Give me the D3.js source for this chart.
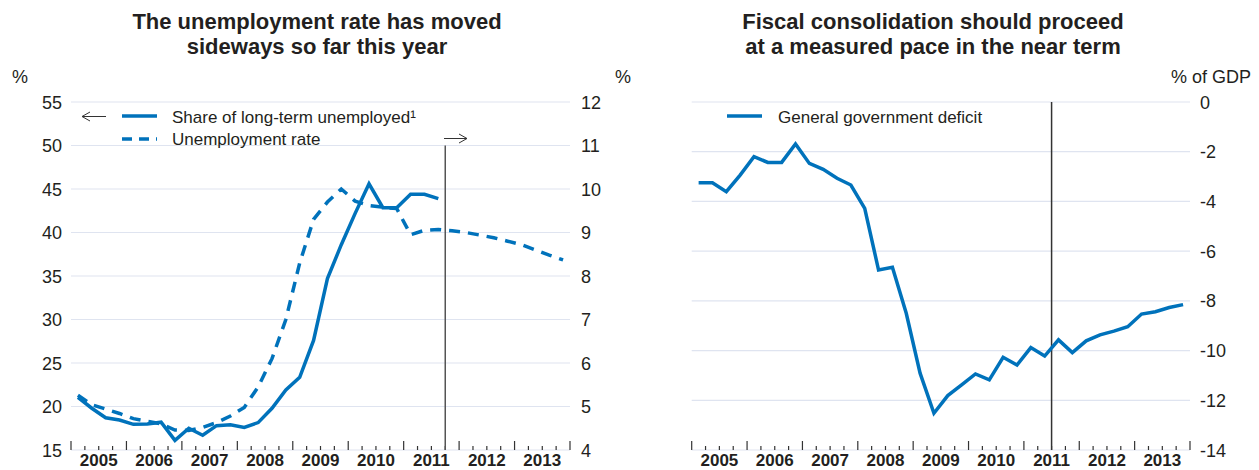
<!DOCTYPE html>
<html><head><meta charset="utf-8">
<script src="https://cdn.jsdelivr.net/npm/d3@7"></script>
<style>
body{margin:0;background:#fff;}
svg text{font-family:"Liberation Sans",Arial,Helvetica,sans-serif;fill:#231f20;}
</style></head>
<body><svg id="c" width="1259" height="470"></svg>
<script>
// ---- data ----
const years = [2005,2006,2007,2008,2009,2010,2011,2012,2013];
// quarterly, 2005Q1 .. 2011Q3 : share of long-term unemployed (%, left axis)
const ltuShare = [21.05,19.8,18.7,18.45, 17.95,18.0,18.2,16.1, 17.5,16.7,17.8,17.9,
  17.6,18.15,19.8,21.9, 23.35,27.6,34.7,38.6, 42.2,45.6,42.85,42.85, 44.4,44.4,43.9];
// quarterly, 2005Q1 .. 2013Q4 : unemployment rate (%, right axis)
const unempRate = [5.26,5.04,4.94,4.84, 4.72,4.66,4.6,4.46, 4.45,4.52,4.63,4.78,
  4.98,5.45,6.1,7.0, 8.3,9.3,9.7,10.0, 9.72,9.62,9.58,9.55, 8.95,9.05,9.07,9.04,
  9.0,8.94,8.88,8.8, 8.72,8.6,8.48,8.37];
// quarterly, 2005Q1 .. 2013Q4 : general government deficit (% of GDP)
const govDeficit = [-3.25,-3.25,-3.61,-2.94, -2.2,-2.43,-2.43,-1.69, -2.47,-2.71,-3.07,-3.34,
  -4.28,-6.76,-6.65,-8.5, -10.91,-12.52,-11.81,-11.38, -10.94,-11.18,-10.27,-10.58,
  -9.88,-10.22,-9.57,-10.08, -9.61,-9.37,-9.22,-9.04, -8.53,-8.44,-8.27,-8.15];
const leftTicks = [15,20,25,30,35,40,45,50,55];
const rightTicks = [4,5,6,7,8,9,10,11,12];
const deficitTicks = [0,-2,-4,-6,-8,-10,-12,-14];
const titleLeft = ["The unemployment rate has moved","sideways so far this year"];
const titleRight = ["Fiscal consolidation should proceed","at a measured pace in the near term"];
const legendLeft = ["Share of long-term unemployed\u00b9","Unemployment rate"];
const legendRight = ["General government deficit"];
const forecastLeft = 2011.75, forecastRight = 2011.5;

// ---- drawing ----
const svg = d3.select("#c");
const BLUE = "#0072bb", GRID = "#dfe4f0";
const qx = i => 2005 + (i + 0.5) / 4;

function frame(g, x, y, ticks) {
  g.append("g").selectAll("line").data(ticks).join("line")
    .attr("x1", x.range()[0]).attr("x2", x.range()[1])
    .attr("y1", d => y(d)).attr("y2", d => y(d))
    .attr("stroke", GRID).attr("stroke-width", 1.2);
  const base = y.range()[0];
  const quarters = d3.range(2005, 2014.01, 0.25);
  g.append("g").selectAll("line").data(quarters).join("line")
    .attr("x1", d => x(d)).attr("x2", d => x(d))
    .attr("y1", base).attr("y2", d => Math.abs(d - Math.round(d)) < 1e-6 ? base - 9 : base - 4)
    .attr("stroke", "#333").attr("stroke-width", 1.2);
  g.append("g").selectAll("text").data(years).join("text")
    .attr("x", d => x(d + 0.5)).attr("y", 466)
    .attr("text-anchor", "middle").attr("font-size", 17).attr("font-weight", "bold")
    .text(d => d);
}

// Left panel
const xL = d3.scaleLinear().domain([2005, 2014]).range([71, 570]);
const yL = d3.scaleLinear().domain([15, 55]).range([450, 102]);
const yR = d3.scaleLinear().domain([4, 12]).range([450, 102]);
const gL = svg.append("g");
frame(gL, xL, yL, leftTicks);
gL.append("g").selectAll("text").data(leftTicks).join("text")
  .attr("x", 62).attr("y", d => yL(d) + 6.5).attr("text-anchor", "end")
  .attr("font-size", 18).text(d => d);
gL.append("g").selectAll("text").data(rightTicks).join("text")
  .attr("x", 581).attr("y", d => yR(d) + 6.5).attr("text-anchor", "start")
  .attr("font-size", 18).text(d => d);
gL.append("text").attr("x", 12).attr("y", 83).attr("font-size", 18).text("%");
gL.append("text").attr("x", 615).attr("y", 83).attr("font-size", 18).text("%");
gL.append("line").attr("x1", xL(forecastLeft)).attr("x2", xL(forecastLeft))
  .attr("y1", yL(50)).attr("y2", 450).attr("stroke", "#555").attr("stroke-width", 1.5);

const lineL = d3.line().x((d, i) => xL(qx(i))).y(d => yL(d));
const lineR = d3.line().x((d, i) => xL(qx(i))).y(d => yR(d));
gL.append("path").attr("d", lineR(unempRate)).attr("fill", "none")
  .attr("stroke", BLUE).attr("stroke-width", 3.5).attr("stroke-dasharray", "11,8");
gL.append("path").attr("d", lineL(ltuShare)).attr("fill", "none")
  .attr("stroke", BLUE).attr("stroke-width", 3.5).attr("stroke-linejoin", "miter");

titleLeft.forEach((t, i) => gL.append("text").attr("x", 317).attr("y", 29 + i * 24.5)
  .attr("text-anchor", "middle").attr("font-size", 22).attr("font-weight", "bold").text(t));

// left legend
gL.append("line").attr("x1", 122).attr("x2", 157).attr("y1", 116).attr("y2", 116)
  .attr("stroke", BLUE).attr("stroke-width", 3.5);
gL.append("line").attr("x1", 122).attr("x2", 157).attr("y1", 139).attr("y2", 139)
  .attr("stroke", BLUE).attr("stroke-width", 3.5).attr("stroke-dasharray", "10,7");
legendLeft.forEach((t, i) => gL.append("text").attr("x", 172).attr("y", 122.5 + i * 22.5)
  .attr("font-size", 17).text(t));
// arrows
function arrow(g, x1, x2, y) {
  g.append("line").attr("x1", x1).attr("x2", x2).attr("y1", y).attr("y2", y)
    .attr("stroke", "#333").attr("stroke-width", 1);
  const tip = x2, d = x2 > x1 ? -8 : 8;
  g.append("path").attr("d", `M${tip + d},${y - 4.5}L${tip},${y}L${tip + d},${y + 4.5}`)
    .attr("fill", "none").attr("stroke", "#333").attr("stroke-width", 1);
}
arrow(gL, 106, 82, 116.5);
arrow(gL, 444, 467, 138.5);

// Right panel
const x2 = d3.scaleLinear().domain([2005, 2014]).range([691.7, 1190]);
const y2 = d3.scaleLinear().domain([-14, 0]).range([450, 102]);
const gR = svg.append("g");
frame(gR, x2, y2, deficitTicks);
gR.append("g").selectAll("text").data(deficitTicks).join("text")
  .attr("x", 1200).attr("y", d => y2(d) + 6.5).attr("text-anchor", "start")
  .attr("font-size", 18).text(d => d);
gR.append("text").attr("x", 1251).attr("y", 83).attr("text-anchor", "end")
  .attr("font-size", 18).text("% of GDP");
gR.append("line").attr("x1", x2(forecastRight)).attr("x2", x2(forecastRight))
  .attr("y1", 102).attr("y2", 450).attr("stroke", "#333").attr("stroke-width", 1.5);
const lineD = d3.line().x((d, i) => x2(qx(i))).y(d => y2(d));
gR.append("path").attr("d", lineD(govDeficit)).attr("fill", "none")
  .attr("stroke", BLUE).attr("stroke-width", 3.5);
titleRight.forEach((t, i) => gR.append("text").attr("x", 933).attr("y", 29 + i * 24.5)
  .attr("text-anchor", "middle").attr("font-size", 22).attr("font-weight", "bold").text(t));
gR.append("line").attr("x1", 727).attr("x2", 762).attr("y1", 116).attr("y2", 116)
  .attr("stroke", BLUE).attr("stroke-width", 3.5);
legendRight.forEach((t, i) => gR.append("text").attr("x", 778).attr("y", 122.5)
  .attr("font-size", 17).text(t));
</script></body></html>
